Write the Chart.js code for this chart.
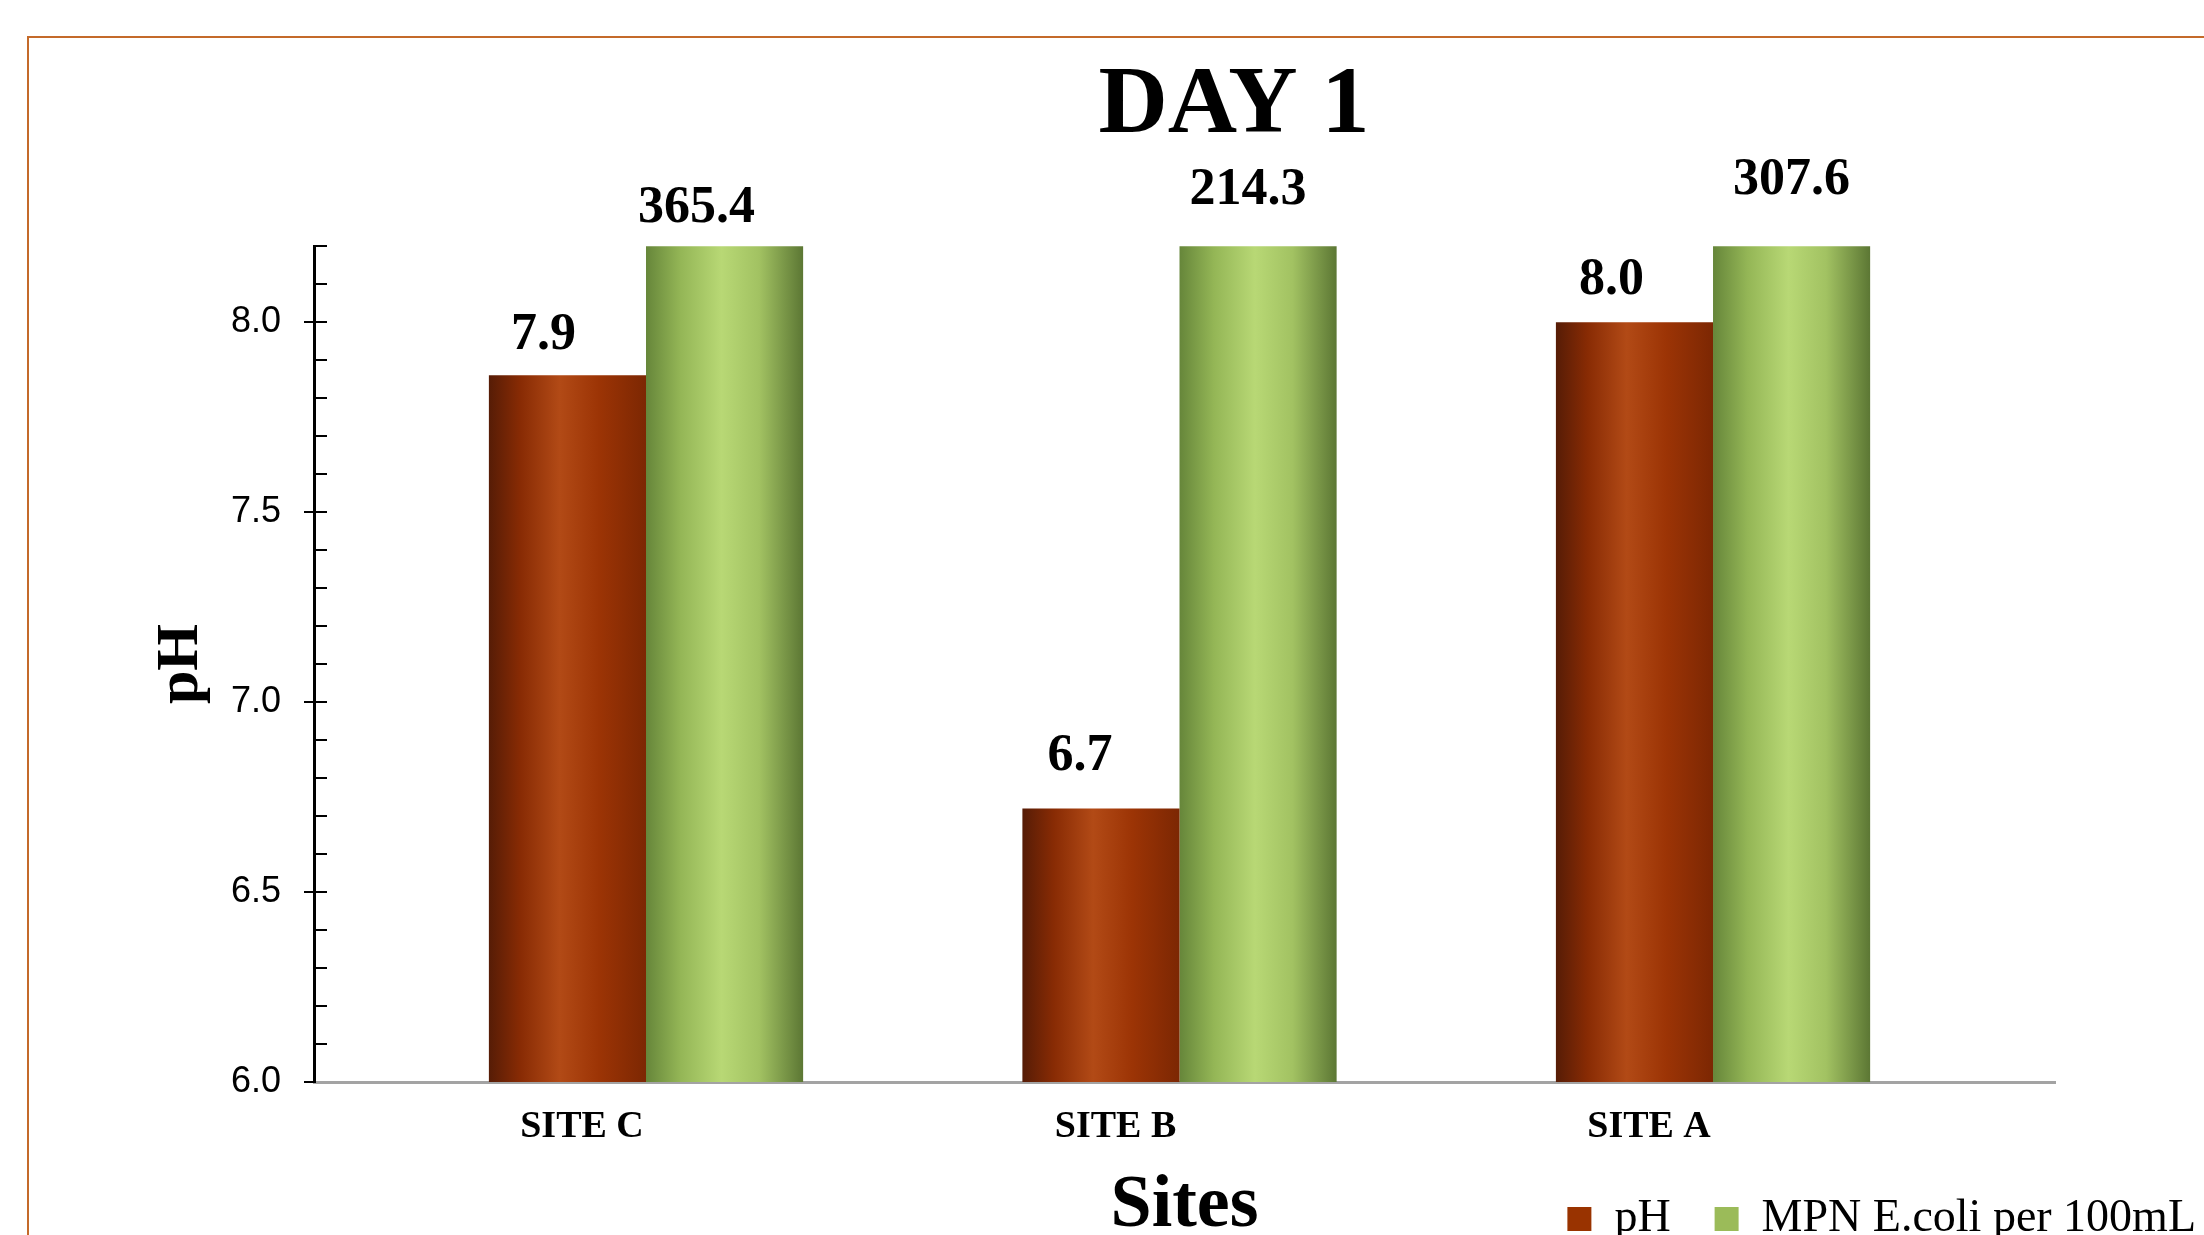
<!DOCTYPE html>
<html>
<head>
<meta charset="utf-8">
<script src="https://cdn.jsdelivr.net/npm/chart.js@4.4.1/dist/chart.umd.min.js"></script>
<style>
  html, body { margin: 0; padding: 0; background: #fff; overflow: hidden; width: 2204px; height: 1235px; }
  #frame { position: absolute; left: 27px; top: 36px; width: 2400px; height: 1400px;
           border-top: 2px solid #c46a2a; border-left: 2px solid #c46a2a; }
  #chart { position: absolute; left: 30px; top: 38px; }
</style>
</head>
<body>
<div id="frame"></div>
<canvas id="chart" width="2210" height="1214"></canvas>
<script>
// data
const sites = ['SITE C', 'SITE B', 'SITE A'];
const phValues = [7.86, 6.72, 8.0];
const ecoliValues = [365.4, 214.3, 307.6];
const seriesNames = ['pH', 'MPN E.coli per 100mL'];
const yMin = 6.0;
const yMax = 8.2;
const yStep = 0.1;
const yLabelStep = 0.5;

// label nudges (px) so the value labels sit where the original has them
const labelLift = [[40, 52, 42], [38, 56, 66]];
const labelShift = [[-24, -21, -23], [-28, -10, 0]];

const serif = '"Liberation Serif", "Times New Roman", serif';
const catPct = 0.589;
const flatColors = ['#993300', '#9bbb59'];

const redStops = [[0, '#561c06'], [0.2, '#882b04'], [0.45, '#b24a16'], [0.7, '#9c3405'], [1, '#7c2703']];
const greenStops = [[0, '#66863a'], [0.22, '#94b656'], [0.48, '#b8d875'], [0.72, '#a2c262'], [1, '#5c7734']];

function barFill(stops, flat) {
  return (c) => {
    if (c.type !== 'data') return flat;
    const chart = c.chart;
    const xs = chart.scales.x;
    if (!chart.chartArea || !xs) return flat;
    const unit = xs.getPixelForValue(1) - xs.getPixelForValue(0);
    const w = unit * catPct / 2;
    const cx = xs.getPixelForValue(c.dataIndex);
    const x0 = c.datasetIndex === 0 ? cx - w : cx;
    const g = chart.ctx.createLinearGradient(x0, 0, x0 + w, 0);
    stops.forEach(([o, col]) => g.addColorStop(o, col));
    return g;
  };
}

const seriesValues = [phValues, ecoliValues];

const valueLabels = {
  id: 'valueLabels',
  afterDatasetsDraw(chart) {
    const ctx = chart.ctx;
    ctx.save();
    ctx.font = 'bold 52px ' + serif;
    ctx.fillStyle = '#000';
    ctx.textAlign = 'center';
    ctx.textBaseline = 'middle';
    seriesValues.forEach((vals, i) => {
      chart.getDatasetMeta(i).data.forEach((bar, j) => {
        const top = Math.max(bar.y, chart.chartArea.top);
        ctx.fillText(vals[j].toFixed(1), bar.x + labelShift[i][j], top - labelLift[i][j]);
      });
    });
    ctx.restore();
  }
};

const isMajor = (v) => Math.abs(v / yLabelStep - Math.round(v / yLabelStep)) < 1e-6;

new Chart(document.getElementById('chart'), {
  type: 'bar',
  data: {
    datasets: [{
      label: seriesNames[0],
      data: phValues.map((v, i) => ({ x: i, y: v })),
      backgroundColor: barFill(redStops, flatColors[0]),
      borderWidth: 0,
      clip: 0
    }, {
      label: seriesNames[1],
      data: ecoliValues.map((v, i) => ({ x: i, y: v })),
      backgroundColor: barFill(greenStops, flatColors[1]),
      borderWidth: 0,
      clip: 0
    }]
  },
  options: {
    responsive: false,
    animation: false,
    categoryPercentage: catPct,
    barPercentage: 1,
    layout: { padding: { left: 198, right: 0, top: 0, bottom: 0 } },
    plugins: {
      tooltip: { enabled: false },
      title: {
        display: true,
        text: 'DAY 1',
        color: '#000',
        font: { family: serif, size: 96, weight: 'bold' },
        padding: { top: 12, bottom: 81 }
      },
      legend: {
        position: 'bottom',
        align: 'end',
        labels: {
          boxWidth: 24,
          boxHeight: 24,
          padding: 44,
          color: '#000',
          font: { family: serif, size: 46 },
          generateLabels: (chart) => Chart.defaults.plugins.legend.labels.generateLabels(chart)
            .map((l, i) => ({ ...l, fillStyle: flatColors[i], strokeStyle: flatColors[i], lineWidth: 0 }))
        }
      }
    },
    scales: {
      x: {
        type: 'linear',
        offset: false,
        min: -0.6223,
        max: 2.641,
        afterBuildTicks: (s) => { s.ticks = sites.map((_, i) => ({ value: i })); },
        afterFit: (s) => { s.height = 70; },
        grid: { display: false, drawTicks: false },
        border: { display: true, color: '#a3a3a3', width: 3 },
        ticks: {
          autoSkip: false,
          padding: 22,
          labelOffset: -64,
          color: '#000',
          font: { family: serif, size: 38, weight: 'bold' },
          callback: (v) => sites[Math.round(v)]
        },
        title: {
          display: true,
          text: 'Sites',
          color: '#000',
          font: { family: serif, size: 74, weight: 'bold' },
          padding: { top: 0, bottom: -99 }
        }
      },
      y: {
        min: yMin,
        max: yMax,
        afterFit: (s) => { s.width = 86; },
        grid: {
          drawOnChartArea: true,
          color: '#000',
          lineWidth: 2,
          drawTicks: true,
          tickLength: 10,
          tickWidth: 2,
          tickColor: (c) => (c.tick && isMajor(c.tick.value)) ? '#000' : 'rgba(0,0,0,0)'
        },
        border: { display: true, color: '#000', width: 3, dash: [11, 4000] },
        ticks: {
          stepSize: yStep,
          maxTicksLimit: 40,
          autoSkip: false,
          padding: 23,
          color: '#000',
          font: { family: '"Liberation Sans", Arial, sans-serif', size: 36 },
          callback: (v) => isMajor(v) ? v.toFixed(1) : ''
        },
        title: {
          display: true,
          text: 'pH',
          color: '#000',
          font: { family: serif, size: 60, weight: 'bold' },
          padding: { top: -83, bottom: 0 }
        }
      },
      y2: {
        position: 'right',
        display: true,
        afterFit: (s) => { s.width = 185; },
        grid: { display: false, drawTicks: false },
        border: { display: false },
        ticks: { display: false }
      }
    }
  },
  plugins: [valueLabels]
});
</script>
</body>
</html>
